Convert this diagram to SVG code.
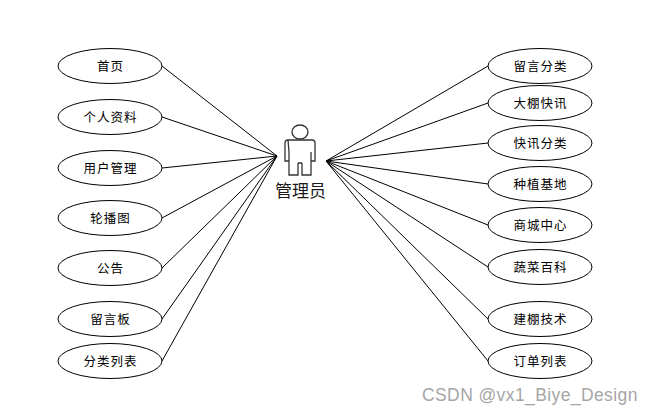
<svg xmlns="http://www.w3.org/2000/svg" width="654" height="415" viewBox="0 0 654 415">
<style>
.n ellipse{fill:#fff;stroke:#000;stroke-width:1}
.n text{font-family:"Noto Sans CJK SC",sans-serif;font-size:12.5px;fill:#000;text-anchor:middle;letter-spacing:1px}
#connectors line{stroke:#000;stroke-width:1}
.a{fill:none;stroke:#333;stroke-width:1.3}
</style>
<rect width="654" height="415" fill="#fff"/>
<g id="connectors">
<line x1="162" y1="66" x2="277" y2="156"/>
<line x1="162" y1="117" x2="277" y2="156"/>
<line x1="162" y1="168" x2="277" y2="156"/>
<line x1="162" y1="218" x2="277" y2="156"/>
<line x1="162" y1="268" x2="277" y2="156"/>
<line x1="162" y1="319" x2="277" y2="156"/>
<line x1="162" y1="361" x2="277" y2="156"/>
<line x1="488" y1="66" x2="326" y2="161"/>
<line x1="488" y1="103" x2="326" y2="161"/>
<line x1="488" y1="143" x2="326" y2="161"/>
<line x1="488" y1="184" x2="326" y2="161"/>
<line x1="488" y1="225" x2="326" y2="161"/>
<line x1="488" y1="267" x2="326" y2="161"/>
<line x1="488" y1="319" x2="326" y2="161"/>
<line x1="488" y1="361" x2="326" y2="161"/>
</g>
<g id="actor">
<ellipse class="a" cx="300" cy="132" rx="8" ry="7"/>
<path class="a" d="M288 140H312Q315 140 315 143V161H311V152M289 152V161H285V143Q285 140 288 140ZM311 152V175H302V163M289 152V175H298V163M298 163H302"/>
<text x="300.5" y="197" font-family="'Noto Sans CJK SC',sans-serif" font-size="17" text-anchor="middle" fill="#1a1a1a">管理员</text>
</g>
<g id="n1" class="n"><ellipse cx="110" cy="66" rx="52" ry="17.5"/><text x="110.5" y="71">首页</text></g>
<g id="n2" class="n"><ellipse cx="110" cy="117" rx="52" ry="17.5"/><text x="110.5" y="122">个人资料</text></g>
<g id="n3" class="n"><ellipse cx="110" cy="168" rx="52" ry="17.5"/><text x="110.5" y="173">用户管理</text></g>
<g id="n4" class="n"><ellipse cx="110" cy="218" rx="52" ry="17.5"/><text x="110.5" y="223">轮播图</text></g>
<g id="n5" class="n"><ellipse cx="110" cy="268" rx="52" ry="17.5"/><text x="110.5" y="273">公告</text></g>
<g id="n6" class="n"><ellipse cx="110" cy="319" rx="52" ry="17.5"/><text x="110.5" y="324">留言板</text></g>
<g id="n7" class="n"><ellipse cx="110" cy="361" rx="52" ry="17.5"/><text x="110.5" y="366">分类列表</text></g>
<g id="n8" class="n"><ellipse cx="540" cy="66" rx="52" ry="17.5"/><text x="540.5" y="71">留言分类</text></g>
<g id="n9" class="n"><ellipse cx="540" cy="103" rx="52" ry="17.5"/><text x="540.5" y="108">大棚快讯</text></g>
<g id="n10" class="n"><ellipse cx="540" cy="143" rx="52" ry="17.5"/><text x="540.5" y="148">快讯分类</text></g>
<g id="n11" class="n"><ellipse cx="540" cy="184" rx="52" ry="17.5"/><text x="540.5" y="189">种植基地</text></g>
<g id="n12" class="n"><ellipse cx="540" cy="225" rx="52" ry="17.5"/><text x="540.5" y="230">商城中心</text></g>
<g id="n13" class="n"><ellipse cx="540" cy="267" rx="52" ry="17.5"/><text x="540.5" y="272">蔬菜百科</text></g>
<g id="n14" class="n"><ellipse cx="540" cy="319" rx="52" ry="17.5"/><text x="540.5" y="324">建棚技术</text></g>
<g id="n15" class="n"><ellipse cx="540" cy="361" rx="52" ry="17.5"/><text x="540.5" y="366">订单列表</text></g>
<text x="422" y="401" font-family="'Liberation Sans',sans-serif" font-size="17.5" letter-spacing=".4" fill="#a6a6a6">CSDN @vx1_Biye_Design</text>
</svg>
